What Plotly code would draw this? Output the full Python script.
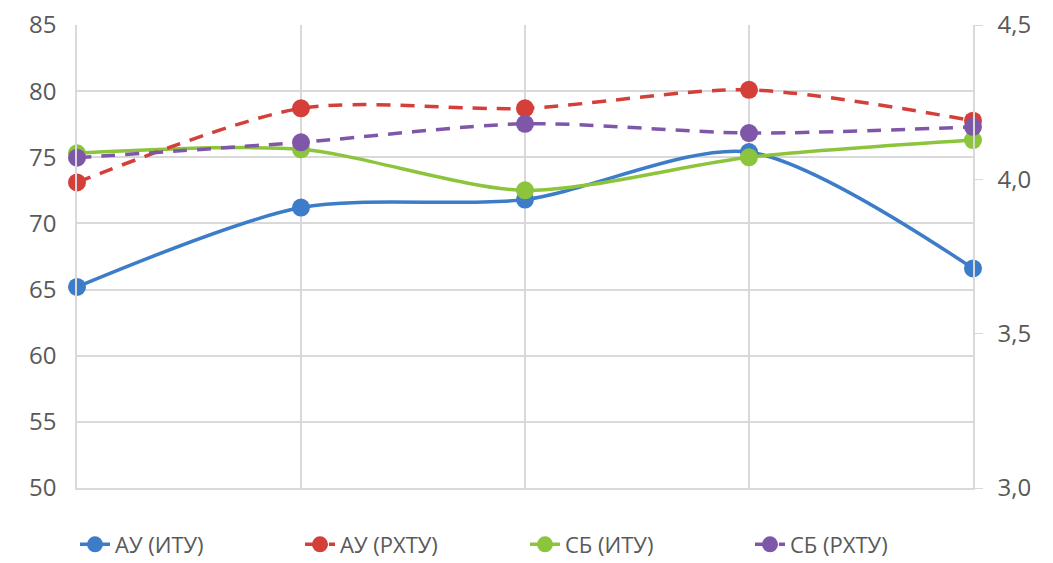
import plotly.graph_objects as go

# пять точек по оси X, подписей нет
points = [1, 2, 3, 4, 5]

au_itu = [65.2, 71.2, 71.8, 75.4, 66.6]
sb_itu = [75.3, 75.6, 72.5, 75.0, 76.3]
# РХТУ — по правой оси (баллы)
au_rhtu = [3.99, 4.23, 4.23, 4.29, 4.19]
sb_rhtu = [4.07, 4.12, 4.18, 4.15, 4.17]

left_ticks = [50, 55, 60, 65, 70, 75, 80, 85]
right_ticks = [3.0, 3.5, 4.0, 4.5]
right_labels = ["3,0", "3,5", "4,0", "4,5"]

FONT = "Open Sans"
GRID = "#d9d9d9"
TEXT = "#595959"

fig = go.Figure()

series = [
    ("АУ (ИТУ)", au_itu, "#3D7CC9", "solid", "y"),
    ("АУ (РХТУ)", au_rhtu, "#D43F3A", "14px,10px", "y2"),
    ("СБ (ИТУ)", sb_itu, "#8CC43C", "solid", "y"),
    ("СБ (РХТУ)", sb_rhtu, "#7E57A8", "14px,10px", "y2"),
]

for name, vals, color, dash, axis in series:
    fig.add_trace(go.Scatter(
        x=points,
        y=vals,
        name=name,
        yaxis=axis,
        mode="lines+markers",
        line=dict(color=color, width=3.5, dash=dash, shape="spline", smoothing=0.8),
        marker=dict(size=18, color=color),
        cliponaxis=False,
    ))

fig.update_layout(
    width=1045,
    height=555,
    paper_bgcolor="white",
    plot_bgcolor="white",
    font=dict(family=FONT, color=TEXT, size=22),
    margin=dict(l=69, r=80, t=17, b=75, autoexpand=False),
    xaxis=dict(
        range=[1, 5],
        tickvals=points,
        showticklabels=False,
        showgrid=True,
        gridcolor=GRID,
        gridwidth=1.5,
        zeroline=False,
        showline=True,
        linecolor=GRID,
        linewidth=1.5,
    ),
    yaxis=dict(
        range=[50, 85],
        tickvals=left_ticks,
        showgrid=True,
        gridcolor=GRID,
        gridwidth=1.5,
        zeroline=False,
        showline=True,
        linecolor=GRID,
        linewidth=1.5,
        ticklabelstandoff=14,
        ticklabeloverflow="allow",
        tickfont=dict(size=24, color=TEXT),
    ),
    yaxis2=dict(
        range=[3.0, 4.5],
        tickvals=right_ticks,
        ticktext=right_labels,
        overlaying="y",
        side="right",
        showgrid=False,
        zeroline=False,
        showline=True,
        linecolor=GRID,
        linewidth=1.5,
        ticks="outside",
        ticklen=8,
        tickcolor=GRID,
        ticklabelstandoff=10,
        ticklabeloverflow="allow",
        tickfont=dict(size=24, color=TEXT),
    ),
    legend=dict(
        orientation="h",
        x=0.5,
        xanchor="center",
        y=-0.122,
        yanchor="middle",
        font=dict(size=22, color=TEXT),
        entrywidth=180,
        entrywidthmode="pixels",
        traceorder="normal",
    ),
)

fig.write_html("out.html")
